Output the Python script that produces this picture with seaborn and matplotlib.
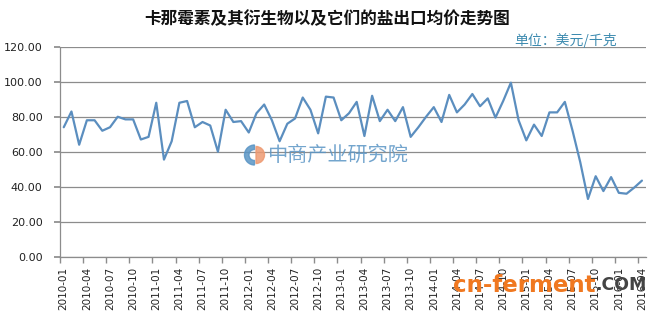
import matplotlib
matplotlib.use("Agg")
import matplotlib.pyplot as plt
from matplotlib.patches import Wedge
import seaborn as sns
import pandas as pd
import numpy as np

title = "卡那霉素及其衍生物以及它们的盐出口均价走势图"
unit_label = "单位：美元/千克"

months = [f"{y}-{m:02d}" for y in range(2010, 2017) for m in range(1, 13)][:76]
prices = [74, 83, 64, 78, 78, 72, 74, 80, 78.5, 78.5, 67, 68.5,
          88, 55.5, 66, 88, 89, 74, 77, 75, 60, 84, 77, 77.5,
          71, 82, 87, 78, 66, 76, 79, 91, 84, 70.5, 91.5, 91,
          78, 82, 88.5, 69, 92, 77.5, 84, 77.5, 85.5, 68.5, 74, 80,
          85.5, 77, 92.5, 82.5, 87, 93, 86, 90.5, 79.5, 89, 99.5, 78,
          66.5, 75.5, 69, 82.5, 82.5, 88.5, 72, 54, 33, 46, 37.5, 45.5,
          36.5, 36, 39.5, 43.5]
y_ticks = [0, 20, 40, 60, 80, 100, 120]

df = pd.DataFrame({"idx": np.arange(len(months)), "month": months, "price": prices})

sns.set_theme(style="white")
plt.rcParams['font.family'] = ['Noto Sans CJK SC', 'DejaVu Sans']

fig = plt.figure(figsize=(6.51, 3.14), dpi=100)
ax = fig.add_axes([0.092, 0.1825, 0.9, 0.6685])

sns.lineplot(data=df, x="idx", y="price", ax=ax, color="#5B8EBF", linewidth=1.6)

ax.set_ylim(0, 120)
ax.set_xlim(-0.5, len(months) - 0.5)
ax.set_yticks(y_ticks)
ax.set_yticklabels([f"{v:.2f}" for v in y_ticks], fontsize=8, color="#222222",
                   family=['DejaVu Sans'])
ax.yaxis.grid(True, color="#8c8c8c", linewidth=0.9)
ax.set_axisbelow(True)

label_idx = list(range(0, len(months), 3))
ax.set_xticks(label_idx)
ax.set_xticklabels([months[i] for i in label_idx], rotation=90, fontsize=7.5,
                   color="#222222", family=['DejaVu Sans'])
ax.tick_params(axis="x", length=0, pad=7)
ax.tick_params(axis="y", length=4.5, color="#8c8c8c", direction="out", left=True, pad=8)
ax.set_xticks([i - 0.5 for i in range(0, len(months) + 1, 3)], minor=True)
ax.tick_params(axis="x", which="minor", length=4, color="#8c8c8c", direction="out", bottom=True)

for s in ["top", "right"]:
    ax.spines[s].set_visible(False)
for s in ["left", "bottom"]:
    ax.spines[s].set_color("#8c8c8c")
    ax.spines[s].set_linewidth(0.9)

ax.set_xlabel("")
ax.set_ylabel("")

fig.text(0.502, 0.94, title, ha="center", va="center", fontsize=12, fontweight="bold", color="#111111")
fig.text(0.948, 0.872, unit_label, ha="right", va="center", fontsize=10, color="#3d8bb0")

# centre watermark: logo + text
lax = fig.add_axes([242 / 651, 1 - 166 / 314, 25 / 651, 22 / 314])
lax.set_xlim(-1.2, 1.2)
lax.set_ylim(-1.1, 1.1)
lax.set_aspect("equal")
lax.axis("off")
lax.add_patch(Wedge((0, 0), 1.0, 90, 270, width=0.45, color="#5a95c5", alpha=0.85))
lax.add_patch(Wedge((0.15, 0), 0.85, -90, 90, color="#ee9a72", alpha=0.85))
fig.text(0.518, 0.506, "中商产业研究院", ha="center", va="center", fontsize=14.5,
         color="#5a95c5", alpha=0.85)

# bottom-right watermark
fig.text(0.915, 0.092, "cn-ferment", ha="right", va="center", fontsize=16.5,
         fontweight="bold", color="#f07820", family=['DejaVu Sans'], zorder=10)
fig.text(0.915, 0.092, ".COM", ha="left", va="center", fontsize=12.5,
         fontweight="bold", color="#444444", family=['DejaVu Sans'], zorder=10)

fig.savefig("out.png", dpi=100)
